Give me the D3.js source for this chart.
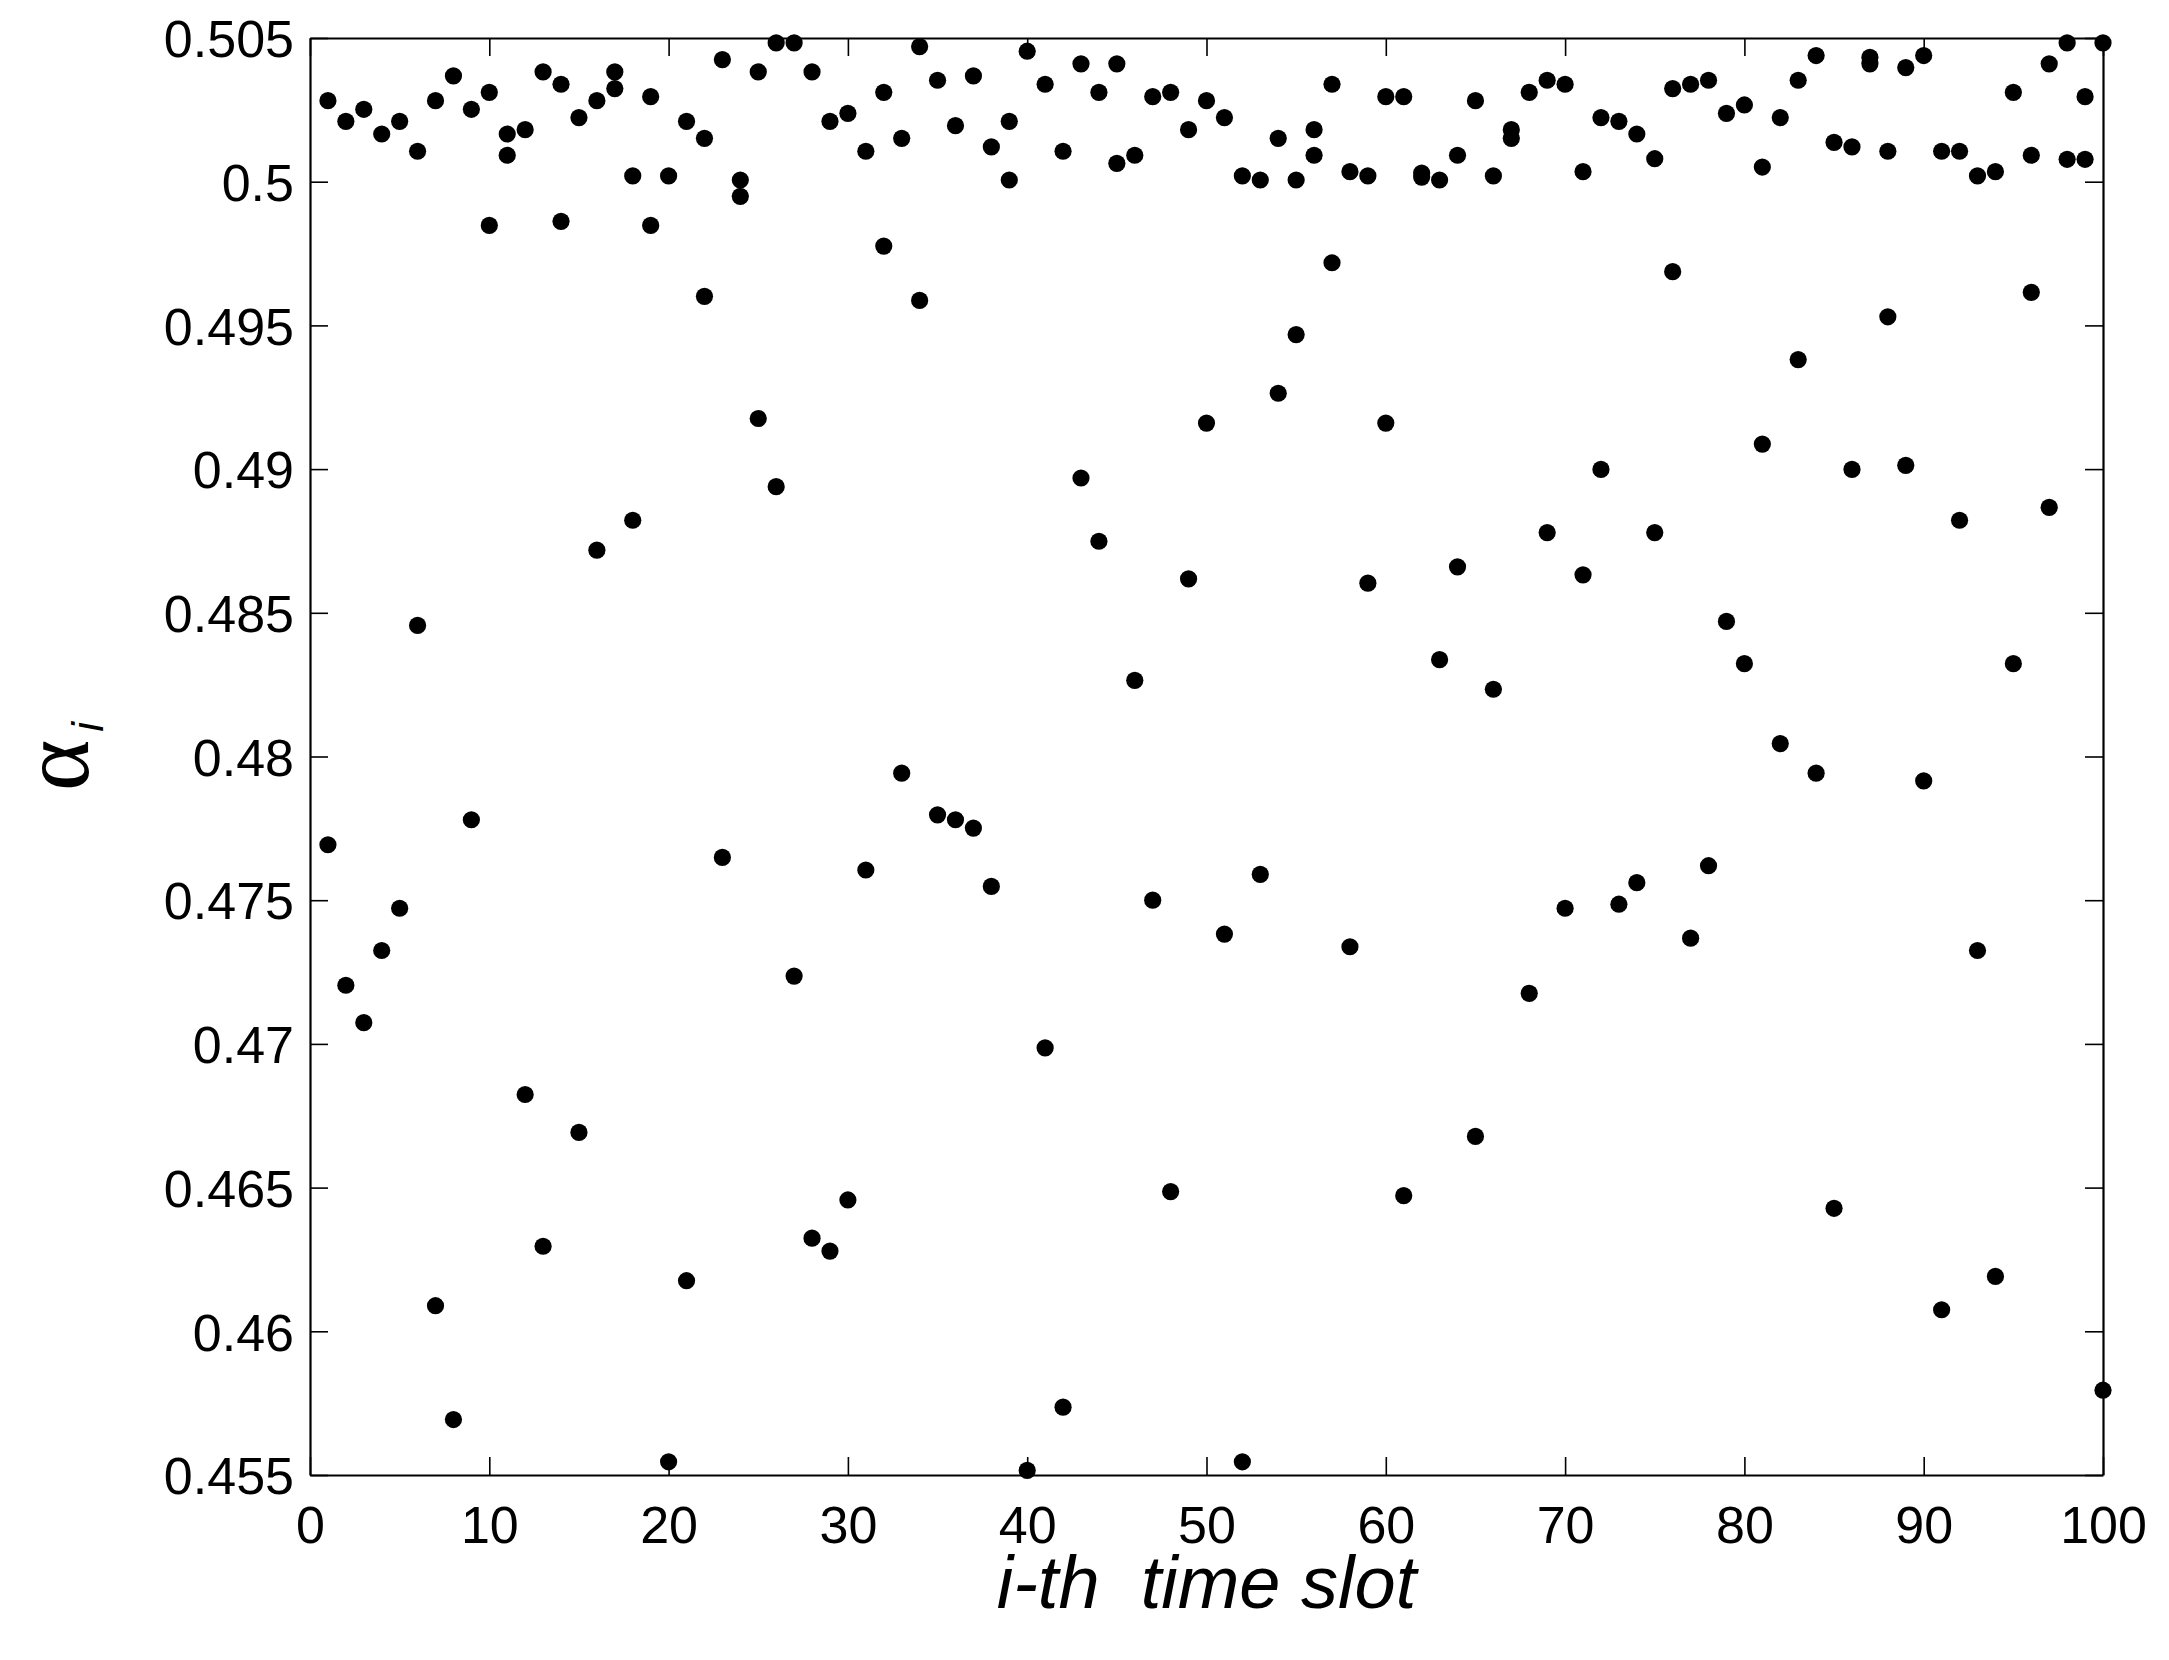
<!DOCTYPE html>
<html>
<head>
<meta charset="utf-8">
<script src="https://cdn.jsdelivr.net/npm/d3@7"></script>
<style>
  html, body { margin: 0; padding: 0; background: #ffffff; }
  svg { display: block; }
</style>
</head>
<body>
<script>
// ---- data ----
const timeSlots = [1,2,3,4,5,6,7,8,9,10,11,12,13,14,15,16,17,18,19,20,
  21,22,23,24,25,26,27,28,29,30,31,32,33,34,35,36,37,38,39,40,
  41,42,43,44,45,46,47,48,49,50,51,52,53,54,55,56,57,58,59,60,
  61,62,63,64,65,66,67,68,69,70,71,72,73,74,75,76,77,78,79,80,
  81,82,83,84,85,86,87,88,89,90,91,92,93,94,95,96,97,98,99,100];

const alphaSeriesA = [
  0.50282,0.50210,0.50252,0.50166,0.50210,0.50106,0.50282,0.50368,0.50252,0.50311,
  0.50166,0.50181,0.50382,0.50339,0.50223,0.50282,0.50382,0.50020,0.50296,0.50020,
  0.50210,0.50151,0.50425,0.50006,0.50382,0.50483,0.50483,0.50382,0.50210,0.50238,
  0.50106,0.50311,0.50151,0.50470,0.50353,0.50195,0.50368,0.50121,0.50210,0.50454,
  0.50339,0.50106,0.50410,0.50311,0.50410,0.50092,0.50296,0.50311,0.50181,0.50282,
  0.50223,0.50020,0.50006,0.50151,0.50006,0.50181,0.50339,0.50035,0.50020,0.50296,
  0.50296,0.50030,0.50006,0.50092,0.50282,0.50020,0.50181,0.50311,0.50353,0.50339,
  0.50035,0.50223,0.50210,0.50166,0.50080,0.50324,0.50339,0.50353,0.50238,0.50267,
  0.50051,0.50223,0.50353,0.50439,0.50137,0.50121,0.50433,0.50106,0.50397,0.50439,
  0.50106,0.50106,0.50020,0.50035,0.50311,0.50092,0.50410,0.50483,0.50296,0.50483];

const alphaSeriesB = [
  0.47693,0.47204,0.47074,0.47325,0.47472,0.48456,0.46089,0.45693,0.47780,0.49848,
  0.50092,0.46824,0.46296,0.49862,0.46692,0.48718,0.50324,0.48822,0.49848,0.45546,
  0.46176,0.49601,0.47649,0.49949,0.49176,0.48939,0.47236,0.46324,0.46279,0.46457,
  0.47605,0.49776,0.47942,0.49587,0.47797,0.47780,0.47751,0.47548,0.50006,0.45516,
  0.46986,0.45736,0.48969,0.48749,0.50064,0.48265,0.47500,0.46486,0.48618,0.49160,
  0.47382,0.45546,0.47590,0.49264,0.49468,0.50092,0.49718,0.47338,0.48603,0.49160,
  0.46472,0.50016,0.48337,0.48660,0.46678,0.48234,0.50151,0.47176,0.48779,0.47472,
  0.48632,0.48999,0.47486,0.47561,0.48779,0.49687,0.47368,0.47620,0.48470,0.48323,
  0.49087,0.48045,0.49381,0.47942,0.46428,0.48999,0.50410,0.49530,0.49013,0.47915,
  0.46075,0.48822,0.47325,0.46191,0.48323,0.49615,0.48867,0.50078,0.50078,0.45795];

const xTickValues = [0,10,20,30,40,50,60,70,80,90,100];
const yTickValues = [0.455,0.46,0.465,0.47,0.475,0.48,0.485,0.49,0.495,0.5,0.505];
const yTickLabels = ["0.455","0.46","0.465","0.47","0.475","0.48","0.485","0.49","0.495","0.5","0.505"];
const xAxisTitle = "i-th  time slot";
const yAxisSymbol = "\u03B1";
const yAxisSubscript = "i";

// ---- layout ----
const W = 2169, H = 1660;
const plotL = 310, plotR = 2103, plotT = 38, plotB = 1475;
const tickLen = 18;
const font = "'Liberation Sans', Arial, Helvetica, sans-serif";

const svg = d3.select("body").append("svg")
  .attr("width", W).attr("height", H)
  .attr("viewBox", `0 0 ${W} ${H}`);

svg.append("rect").attr("width", W).attr("height", H).attr("fill", "#fff");

const x = d3.scaleLinear().domain([0, 100]).range([plotL, plotR]);
const y = d3.scaleLinear().domain([0.455, 0.505]).range([plotB, plotT]);

// axes (box with inward ticks on all sides)
const fmtY = v => yTickLabels[yTickValues.indexOf(v)];

const gBottom = svg.append("g").attr("transform", `translate(0,${plotB})`)
  .call(d3.axisBottom(x).tickValues(xTickValues).tickSizeInner(-tickLen).tickSizeOuter(0).tickPadding(32));
const gTop = svg.append("g").attr("transform", `translate(0,${plotT})`)
  .call(d3.axisTop(x).tickValues(xTickValues).tickSizeInner(-tickLen).tickSizeOuter(0).tickFormat(""));
const gLeft = svg.append("g").attr("transform", `translate(${plotL},0)`)
  .call(d3.axisLeft(y).tickValues(yTickValues).tickSizeInner(-tickLen).tickSizeOuter(0).tickPadding(16).tickFormat(fmtY));
const gRight = svg.append("g").attr("transform", `translate(${plotR},0)`)
  .call(d3.axisRight(y).tickValues(yTickValues).tickSizeInner(-tickLen).tickSizeOuter(0).tickFormat(""));

[gBottom, gTop, gLeft, gRight].forEach(g => {
  g.select(".domain").attr("stroke", "#000").attr("stroke-width", 2.2);
  g.selectAll(".tick line").attr("stroke", "#000").attr("stroke-width", 1.6);
  g.selectAll(".tick text").attr("fill", "#000")
    .style("font-family", font).style("font-size", "52px");
});
gBottom.selectAll(".tick text").attr("dy", null).attr("y", 68);
gLeft.selectAll(".tick text").attr("dy", "0.36em");

// data points
const pts = [];
timeSlots.forEach((s, i) => {
  pts.push({ s, v: alphaSeriesA[i] });
  pts.push({ s, v: alphaSeriesB[i] });
});
svg.append("g").selectAll("circle").data(pts).join("circle")
  .attr("cx", d => x(d.s))
  .attr("cy", d => y(d.v))
  .attr("r", 8.6)
  .attr("fill", "#000");

// x-axis title
svg.append("text")
  .attr("x", (plotL + plotR) / 2).attr("y", 1608)
  .attr("text-anchor", "middle")
  .attr("xml:space", "preserve")
  .style("font-family", font).style("font-style", "italic").style("font-size", "74px")
  .style("white-space", "pre")
  .text(xAxisTitle);

// y-axis title (alpha with subscript i), rotated
const yt = svg.append("text")
  .attr("transform", `translate(88,${(plotT + plotB) / 2}) rotate(-90)`)
  .attr("text-anchor", "middle");
yt.append("tspan").text(yAxisSymbol)
  .style("font-family", "'Liberation Serif', 'Times New Roman', serif")
  .style("font-size", "98px");
yt.append("tspan").text(yAxisSubscript)
  .attr("dy", 15).attr("dx", 8)
  .style("font-family", font).style("font-style", "italic").style("font-size", "44px");
</script>
</body>
</html>
